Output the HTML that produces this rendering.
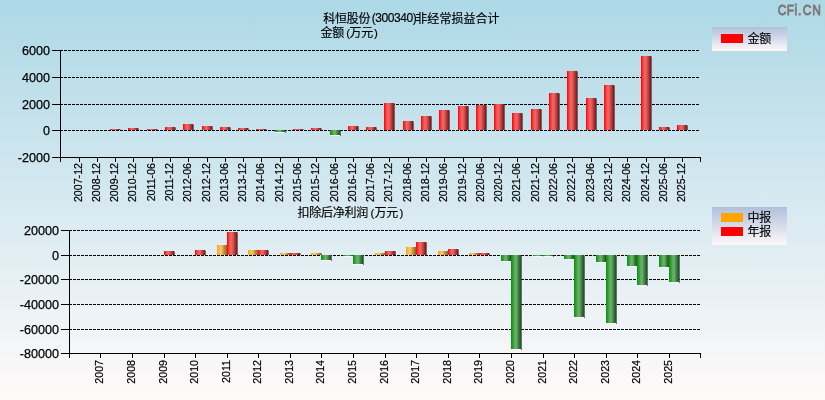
<!DOCTYPE html><html><head><meta charset="utf-8"><style>
html,body{margin:0;padding:0;width:825px;height:400px;overflow:hidden}
body{background:linear-gradient(#add8e6,#fffafa)}
svg{display:block}
text{font-family:"Liberation Sans","WenQuanYi Zen Hei","Noto Sans CJK SC",sans-serif;fill:#000}
.cj{stroke:#000;stroke-width:0.15px;font-family:"Noto Sans CJK SC","WenQuanYi Zen Hei",sans-serif;font-size:12px}
.yl{font-size:12.6px;stroke:#000;stroke-width:0.25px}
.xl{font-size:10.67px;stroke:#000;stroke-width:0.2px}
</style></head><body>
<svg width="825" height="400" viewBox="0 0 825 400" shape-rendering="crispEdges">
<defs>
<linearGradient id="gr" x1="0" x2="1" y1="0" y2="0"><stop offset="0" stop-color="#ff0000"/><stop offset="0.12" stop-color="#ff2222"/><stop offset="0.3" stop-color="#fd5454"/><stop offset="0.42" stop-color="#f06666"/><stop offset="0.55" stop-color="#dc5c5c"/><stop offset="0.75" stop-color="#b83c3c"/><stop offset="0.92" stop-color="#961c1c"/><stop offset="1" stop-color="#8c1414"/></linearGradient>
<linearGradient id="gg" x1="0" x2="1" y1="0" y2="0"><stop offset="0" stop-color="#0c8c0c"/><stop offset="0.2" stop-color="#30a030"/><stop offset="0.4" stop-color="#66b266"/><stop offset="0.55" stop-color="#6aa86a"/><stop offset="0.75" stop-color="#3f7f3f"/><stop offset="1" stop-color="#1a551a"/></linearGradient>
<linearGradient id="go" x1="0" x2="1" y1="0" y2="0"><stop offset="0" stop-color="#ffa500"/><stop offset="0.2" stop-color="#ffb63a"/><stop offset="0.35" stop-color="#fcc666"/><stop offset="0.5" stop-color="#e6bb66"/><stop offset="0.7" stop-color="#c09040"/><stop offset="1" stop-color="#85651a"/></linearGradient>
<linearGradient id="lg" x1="0" x2="0" y1="0" y2="1"><stop offset="0" stop-color="#b0c0dc"/><stop offset="1" stop-color="#fdf8f9"/></linearGradient>
</defs>
<line x1="60" y1="50.5" x2="700" y2="50.5" stroke="#000" stroke-width="1" stroke-dasharray="3 1"/>
<line x1="60" y1="77.5" x2="700" y2="77.5" stroke="#000" stroke-width="1" stroke-dasharray="3 1"/>
<line x1="60" y1="104.5" x2="700" y2="104.5" stroke="#000" stroke-width="1" stroke-dasharray="3 1"/>
<line x1="60" y1="130.5" x2="700" y2="130.5" stroke="#000" stroke-width="1" stroke-dasharray="3 1"/>
<rect x="110" y="129" width="10" height="1" fill="url(#gr)"/>
<rect x="120" y="129" width="1" height="1" fill="#3c4650" fill-opacity="0.45"/>
<rect x="128" y="128" width="10" height="2" fill="url(#gr)"/>
<rect x="138" y="128" width="1" height="1" fill="#3c4650" fill-opacity="0.45"/>
<rect x="138" y="129" width="1" height="1" fill="#3c4650" fill-opacity="0.75"/>
<rect x="147" y="129" width="10" height="1" fill="url(#gr)"/>
<rect x="157" y="129" width="1" height="1" fill="#3c4650" fill-opacity="0.45"/>
<rect x="165" y="127" width="10" height="3" fill="url(#gr)"/>
<rect x="175" y="127" width="1" height="1" fill="#3c4650" fill-opacity="0.45"/>
<rect x="175" y="128" width="1" height="2" fill="#3c4650" fill-opacity="0.75"/>
<rect x="183" y="124" width="10" height="6" fill="url(#gr)"/>
<rect x="193" y="124" width="1" height="1" fill="#3c4650" fill-opacity="0.45"/>
<rect x="193" y="125" width="1" height="5" fill="#3c4650" fill-opacity="0.75"/>
<rect x="202" y="126" width="10" height="4" fill="url(#gr)"/>
<rect x="212" y="126" width="1" height="1" fill="#3c4650" fill-opacity="0.45"/>
<rect x="212" y="127" width="1" height="3" fill="#3c4650" fill-opacity="0.75"/>
<rect x="220" y="127" width="10" height="3" fill="url(#gr)"/>
<rect x="230" y="127" width="1" height="1" fill="#3c4650" fill-opacity="0.45"/>
<rect x="230" y="128" width="1" height="2" fill="#3c4650" fill-opacity="0.75"/>
<rect x="238" y="128" width="10" height="2" fill="url(#gr)"/>
<rect x="248" y="128" width="1" height="1" fill="#3c4650" fill-opacity="0.45"/>
<rect x="248" y="129" width="1" height="1" fill="#3c4650" fill-opacity="0.75"/>
<rect x="256" y="129" width="10" height="1" fill="url(#gr)"/>
<rect x="266" y="129" width="1" height="1" fill="#3c4650" fill-opacity="0.45"/>
<rect x="275" y="130" width="10" height="2" fill="url(#gg)"/>
<rect x="285" y="130" width="1" height="1" fill="#3c4650" fill-opacity="0.45"/>
<rect x="285" y="131" width="1" height="2" fill="#3c4650" fill-opacity="0.75"/>
<rect x="275" y="132" width="10" height="1" fill="#ffffff" fill-opacity="0.6"/>
<rect x="293" y="129" width="10" height="1" fill="url(#gr)"/>
<rect x="303" y="129" width="1" height="1" fill="#3c4650" fill-opacity="0.45"/>
<rect x="311" y="128" width="10" height="2" fill="url(#gr)"/>
<rect x="321" y="128" width="1" height="1" fill="#3c4650" fill-opacity="0.45"/>
<rect x="321" y="129" width="1" height="1" fill="#3c4650" fill-opacity="0.75"/>
<rect x="330" y="130" width="10" height="5" fill="url(#gg)"/>
<rect x="340" y="130" width="1" height="1" fill="#3c4650" fill-opacity="0.45"/>
<rect x="340" y="131" width="1" height="5" fill="#3c4650" fill-opacity="0.75"/>
<rect x="330" y="135" width="10" height="1" fill="#ffffff" fill-opacity="0.6"/>
<rect x="348" y="126" width="10" height="4" fill="url(#gr)"/>
<rect x="358" y="126" width="1" height="1" fill="#3c4650" fill-opacity="0.45"/>
<rect x="358" y="127" width="1" height="3" fill="#3c4650" fill-opacity="0.75"/>
<rect x="366" y="127" width="10" height="3" fill="url(#gr)"/>
<rect x="376" y="127" width="1" height="1" fill="#3c4650" fill-opacity="0.45"/>
<rect x="376" y="128" width="1" height="2" fill="#3c4650" fill-opacity="0.75"/>
<rect x="384" y="103" width="10" height="27" fill="url(#gr)"/>
<rect x="394" y="103" width="1" height="1" fill="#3c4650" fill-opacity="0.45"/>
<rect x="394" y="104" width="1" height="26" fill="#3c4650" fill-opacity="0.75"/>
<rect x="403" y="121" width="10" height="9" fill="url(#gr)"/>
<rect x="413" y="121" width="1" height="1" fill="#3c4650" fill-opacity="0.45"/>
<rect x="413" y="122" width="1" height="8" fill="#3c4650" fill-opacity="0.75"/>
<rect x="421" y="116" width="10" height="14" fill="url(#gr)"/>
<rect x="431" y="116" width="1" height="1" fill="#3c4650" fill-opacity="0.45"/>
<rect x="431" y="117" width="1" height="13" fill="#3c4650" fill-opacity="0.75"/>
<rect x="439" y="110" width="10" height="20" fill="url(#gr)"/>
<rect x="449" y="110" width="1" height="1" fill="#3c4650" fill-opacity="0.45"/>
<rect x="449" y="111" width="1" height="19" fill="#3c4650" fill-opacity="0.75"/>
<rect x="458" y="106" width="10" height="24" fill="url(#gr)"/>
<rect x="468" y="106" width="1" height="1" fill="#3c4650" fill-opacity="0.45"/>
<rect x="468" y="107" width="1" height="23" fill="#3c4650" fill-opacity="0.75"/>
<rect x="476" y="105" width="10" height="25" fill="url(#gr)"/>
<rect x="486" y="105" width="1" height="1" fill="#3c4650" fill-opacity="0.45"/>
<rect x="486" y="106" width="1" height="24" fill="#3c4650" fill-opacity="0.75"/>
<rect x="494" y="104" width="10" height="26" fill="url(#gr)"/>
<rect x="504" y="104" width="1" height="1" fill="#3c4650" fill-opacity="0.45"/>
<rect x="504" y="105" width="1" height="25" fill="#3c4650" fill-opacity="0.75"/>
<rect x="512" y="113" width="10" height="17" fill="url(#gr)"/>
<rect x="522" y="113" width="1" height="1" fill="#3c4650" fill-opacity="0.45"/>
<rect x="522" y="114" width="1" height="16" fill="#3c4650" fill-opacity="0.75"/>
<rect x="531" y="109" width="10" height="21" fill="url(#gr)"/>
<rect x="541" y="109" width="1" height="1" fill="#3c4650" fill-opacity="0.45"/>
<rect x="541" y="110" width="1" height="20" fill="#3c4650" fill-opacity="0.75"/>
<rect x="549" y="93" width="10" height="37" fill="url(#gr)"/>
<rect x="559" y="93" width="1" height="1" fill="#3c4650" fill-opacity="0.45"/>
<rect x="559" y="94" width="1" height="36" fill="#3c4650" fill-opacity="0.75"/>
<rect x="567" y="71" width="10" height="59" fill="url(#gr)"/>
<rect x="577" y="71" width="1" height="1" fill="#3c4650" fill-opacity="0.45"/>
<rect x="577" y="72" width="1" height="58" fill="#3c4650" fill-opacity="0.75"/>
<rect x="586" y="98" width="10" height="32" fill="url(#gr)"/>
<rect x="596" y="98" width="1" height="1" fill="#3c4650" fill-opacity="0.45"/>
<rect x="596" y="99" width="1" height="31" fill="#3c4650" fill-opacity="0.75"/>
<rect x="604" y="85" width="10" height="45" fill="url(#gr)"/>
<rect x="614" y="85" width="1" height="1" fill="#3c4650" fill-opacity="0.45"/>
<rect x="614" y="86" width="1" height="44" fill="#3c4650" fill-opacity="0.75"/>
<rect x="641" y="56" width="10" height="74" fill="url(#gr)"/>
<rect x="651" y="56" width="1" height="1" fill="#3c4650" fill-opacity="0.45"/>
<rect x="651" y="57" width="1" height="73" fill="#3c4650" fill-opacity="0.75"/>
<rect x="659" y="127" width="10" height="3" fill="url(#gr)"/>
<rect x="669" y="127" width="1" height="1" fill="#3c4650" fill-opacity="0.45"/>
<rect x="669" y="128" width="1" height="2" fill="#3c4650" fill-opacity="0.75"/>
<rect x="677" y="125" width="10" height="5" fill="url(#gr)"/>
<rect x="687" y="125" width="1" height="1" fill="#3c4650" fill-opacity="0.45"/>
<rect x="687" y="126" width="1" height="4" fill="#3c4650" fill-opacity="0.75"/>
<rect x="60" y="50" width="1" height="112" fill="#000"/>
<rect x="60" y="157" width="641" height="1" fill="#000"/>
<rect x="52" y="50" width="8" height="1" fill="#000"/>
<rect x="52" y="77" width="8" height="1" fill="#000"/>
<rect x="52" y="104" width="8" height="1" fill="#000"/>
<rect x="52" y="130" width="8" height="1" fill="#000"/>
<rect x="52" y="157" width="8" height="1" fill="#000"/>
<rect x="79" y="158" width="1" height="4" fill="#000"/>
<rect x="97" y="158" width="1" height="4" fill="#000"/>
<rect x="115" y="158" width="1" height="4" fill="#000"/>
<rect x="133" y="158" width="1" height="4" fill="#000"/>
<rect x="152" y="158" width="1" height="4" fill="#000"/>
<rect x="170" y="158" width="1" height="4" fill="#000"/>
<rect x="188" y="158" width="1" height="4" fill="#000"/>
<rect x="207" y="158" width="1" height="4" fill="#000"/>
<rect x="225" y="158" width="1" height="4" fill="#000"/>
<rect x="243" y="158" width="1" height="4" fill="#000"/>
<rect x="261" y="158" width="1" height="4" fill="#000"/>
<rect x="280" y="158" width="1" height="4" fill="#000"/>
<rect x="298" y="158" width="1" height="4" fill="#000"/>
<rect x="316" y="158" width="1" height="4" fill="#000"/>
<rect x="335" y="158" width="1" height="4" fill="#000"/>
<rect x="353" y="158" width="1" height="4" fill="#000"/>
<rect x="371" y="158" width="1" height="4" fill="#000"/>
<rect x="389" y="158" width="1" height="4" fill="#000"/>
<rect x="408" y="158" width="1" height="4" fill="#000"/>
<rect x="426" y="158" width="1" height="4" fill="#000"/>
<rect x="444" y="158" width="1" height="4" fill="#000"/>
<rect x="463" y="158" width="1" height="4" fill="#000"/>
<rect x="481" y="158" width="1" height="4" fill="#000"/>
<rect x="499" y="158" width="1" height="4" fill="#000"/>
<rect x="517" y="158" width="1" height="4" fill="#000"/>
<rect x="536" y="158" width="1" height="4" fill="#000"/>
<rect x="554" y="158" width="1" height="4" fill="#000"/>
<rect x="572" y="158" width="1" height="4" fill="#000"/>
<rect x="591" y="158" width="1" height="4" fill="#000"/>
<rect x="609" y="158" width="1" height="4" fill="#000"/>
<rect x="627" y="158" width="1" height="4" fill="#000"/>
<rect x="646" y="158" width="1" height="4" fill="#000"/>
<rect x="664" y="158" width="1" height="4" fill="#000"/>
<rect x="682" y="158" width="1" height="4" fill="#000"/>
<rect x="700" y="158" width="1" height="4" fill="#000"/>
<text class="yl" x="50" y="54.5" text-anchor="end">6000</text>
<text class="yl" x="50" y="81.5" text-anchor="end">4000</text>
<text class="yl" x="50" y="108.5" text-anchor="end">2000</text>
<text class="yl" x="50" y="134.5" text-anchor="end">0</text>
<text class="yl" x="50" y="161.5" text-anchor="end">-2000</text>
<text class="xl" transform="translate(82,163) rotate(-90)" text-anchor="end">2007-12</text>
<text class="xl" transform="translate(100,163) rotate(-90)" text-anchor="end">2008-12</text>
<text class="xl" transform="translate(118,163) rotate(-90)" text-anchor="end">2009-12</text>
<text class="xl" transform="translate(136,163) rotate(-90)" text-anchor="end">2010-12</text>
<text class="xl" transform="translate(155,163) rotate(-90)" text-anchor="end">2011-06</text>
<text class="xl" transform="translate(173,163) rotate(-90)" text-anchor="end">2011-12</text>
<text class="xl" transform="translate(191,163) rotate(-90)" text-anchor="end">2012-06</text>
<text class="xl" transform="translate(210,163) rotate(-90)" text-anchor="end">2012-12</text>
<text class="xl" transform="translate(228,163) rotate(-90)" text-anchor="end">2013-06</text>
<text class="xl" transform="translate(246,163) rotate(-90)" text-anchor="end">2013-12</text>
<text class="xl" transform="translate(264,163) rotate(-90)" text-anchor="end">2014-06</text>
<text class="xl" transform="translate(283,163) rotate(-90)" text-anchor="end">2014-12</text>
<text class="xl" transform="translate(301,163) rotate(-90)" text-anchor="end">2015-06</text>
<text class="xl" transform="translate(319,163) rotate(-90)" text-anchor="end">2015-12</text>
<text class="xl" transform="translate(338,163) rotate(-90)" text-anchor="end">2016-06</text>
<text class="xl" transform="translate(356,163) rotate(-90)" text-anchor="end">2016-12</text>
<text class="xl" transform="translate(374,163) rotate(-90)" text-anchor="end">2017-06</text>
<text class="xl" transform="translate(392,163) rotate(-90)" text-anchor="end">2017-12</text>
<text class="xl" transform="translate(411,163) rotate(-90)" text-anchor="end">2018-06</text>
<text class="xl" transform="translate(429,163) rotate(-90)" text-anchor="end">2018-12</text>
<text class="xl" transform="translate(447,163) rotate(-90)" text-anchor="end">2019-06</text>
<text class="xl" transform="translate(466,163) rotate(-90)" text-anchor="end">2019-12</text>
<text class="xl" transform="translate(484,163) rotate(-90)" text-anchor="end">2020-06</text>
<text class="xl" transform="translate(502,163) rotate(-90)" text-anchor="end">2020-12</text>
<text class="xl" transform="translate(520,163) rotate(-90)" text-anchor="end">2021-06</text>
<text class="xl" transform="translate(539,163) rotate(-90)" text-anchor="end">2021-12</text>
<text class="xl" transform="translate(557,163) rotate(-90)" text-anchor="end">2022-06</text>
<text class="xl" transform="translate(575,163) rotate(-90)" text-anchor="end">2022-12</text>
<text class="xl" transform="translate(594,163) rotate(-90)" text-anchor="end">2023-06</text>
<text class="xl" transform="translate(612,163) rotate(-90)" text-anchor="end">2023-12</text>
<text class="xl" transform="translate(630,163) rotate(-90)" text-anchor="end">2024-06</text>
<text class="xl" transform="translate(649,163) rotate(-90)" text-anchor="end">2024-12</text>
<text class="xl" transform="translate(667,163) rotate(-90)" text-anchor="end">2025-06</text>
<text class="xl" transform="translate(685,163) rotate(-90)" text-anchor="end">2025-12</text>
<line x1="69" y1="230.5" x2="700" y2="230.5" stroke="#000" stroke-width="1" stroke-dasharray="3 1"/>
<line x1="69" y1="255.5" x2="700" y2="255.5" stroke="#000" stroke-width="1" stroke-dasharray="3 1"/>
<line x1="69" y1="279.5" x2="700" y2="279.5" stroke="#000" stroke-width="1" stroke-dasharray="3 1"/>
<line x1="69" y1="304.5" x2="700" y2="304.5" stroke="#000" stroke-width="1" stroke-dasharray="3 1"/>
<line x1="69" y1="329.5" x2="700" y2="329.5" stroke="#000" stroke-width="1" stroke-dasharray="3 1"/>
<rect x="164" y="251" width="10" height="4" fill="url(#gr)"/>
<rect x="174" y="251" width="1" height="1" fill="#3c4650" fill-opacity="0.45"/>
<rect x="174" y="252" width="1" height="3" fill="#3c4650" fill-opacity="0.75"/>
<rect x="195" y="250" width="10" height="5" fill="url(#gr)"/>
<rect x="205" y="250" width="1" height="1" fill="#3c4650" fill-opacity="0.45"/>
<rect x="205" y="251" width="1" height="4" fill="#3c4650" fill-opacity="0.75"/>
<rect x="217" y="245" width="10" height="10" fill="url(#go)"/>
<rect x="227" y="245" width="1" height="1" fill="#3c4650" fill-opacity="0.45"/>
<rect x="227" y="246" width="1" height="9" fill="#3c4650" fill-opacity="0.75"/>
<rect x="227" y="232" width="10" height="23" fill="url(#gr)"/>
<rect x="237" y="232" width="1" height="1" fill="#3c4650" fill-opacity="0.45"/>
<rect x="237" y="233" width="1" height="22" fill="#3c4650" fill-opacity="0.75"/>
<rect x="248" y="250" width="10" height="5" fill="url(#go)"/>
<rect x="258" y="250" width="1" height="1" fill="#3c4650" fill-opacity="0.45"/>
<rect x="258" y="251" width="1" height="4" fill="#3c4650" fill-opacity="0.75"/>
<rect x="258" y="250" width="10" height="5" fill="url(#gr)"/>
<rect x="268" y="250" width="1" height="1" fill="#3c4650" fill-opacity="0.45"/>
<rect x="268" y="251" width="1" height="4" fill="#3c4650" fill-opacity="0.75"/>
<rect x="280" y="253" width="10" height="2" fill="url(#go)"/>
<rect x="290" y="253" width="1" height="1" fill="#3c4650" fill-opacity="0.45"/>
<rect x="290" y="254" width="1" height="1" fill="#3c4650" fill-opacity="0.75"/>
<rect x="290" y="253" width="10" height="2" fill="url(#gr)"/>
<rect x="300" y="253" width="1" height="1" fill="#3c4650" fill-opacity="0.45"/>
<rect x="300" y="254" width="1" height="1" fill="#3c4650" fill-opacity="0.75"/>
<rect x="311" y="253" width="10" height="2" fill="url(#go)"/>
<rect x="321" y="253" width="1" height="1" fill="#3c4650" fill-opacity="0.45"/>
<rect x="321" y="254" width="1" height="1" fill="#3c4650" fill-opacity="0.75"/>
<rect x="321" y="255" width="10" height="5" fill="url(#gg)"/>
<rect x="331" y="255" width="1" height="1" fill="#3c4650" fill-opacity="0.45"/>
<rect x="331" y="256" width="1" height="5" fill="#3c4650" fill-opacity="0.75"/>
<rect x="321" y="260" width="10" height="1" fill="#ffffff" fill-opacity="0.6"/>
<rect x="343" y="255" width="10" height="1" fill="url(#gg)"/>
<rect x="353" y="255" width="1" height="1" fill="#3c4650" fill-opacity="0.45"/>
<rect x="353" y="256" width="1" height="1" fill="#3c4650" fill-opacity="0.75"/>
<rect x="343" y="256" width="10" height="1" fill="#ffffff" fill-opacity="0.6"/>
<rect x="353" y="255" width="10" height="9" fill="url(#gg)"/>
<rect x="363" y="255" width="1" height="1" fill="#3c4650" fill-opacity="0.45"/>
<rect x="363" y="256" width="1" height="9" fill="#3c4650" fill-opacity="0.75"/>
<rect x="353" y="264" width="10" height="1" fill="#ffffff" fill-opacity="0.6"/>
<rect x="375" y="253" width="10" height="2" fill="url(#go)"/>
<rect x="385" y="253" width="1" height="1" fill="#3c4650" fill-opacity="0.45"/>
<rect x="385" y="254" width="1" height="1" fill="#3c4650" fill-opacity="0.75"/>
<rect x="385" y="251" width="10" height="4" fill="url(#gr)"/>
<rect x="395" y="251" width="1" height="1" fill="#3c4650" fill-opacity="0.45"/>
<rect x="395" y="252" width="1" height="3" fill="#3c4650" fill-opacity="0.75"/>
<rect x="406" y="247" width="10" height="8" fill="url(#go)"/>
<rect x="416" y="247" width="1" height="1" fill="#3c4650" fill-opacity="0.45"/>
<rect x="416" y="248" width="1" height="7" fill="#3c4650" fill-opacity="0.75"/>
<rect x="416" y="242" width="10" height="13" fill="url(#gr)"/>
<rect x="426" y="242" width="1" height="1" fill="#3c4650" fill-opacity="0.45"/>
<rect x="426" y="243" width="1" height="12" fill="#3c4650" fill-opacity="0.75"/>
<rect x="438" y="251" width="10" height="4" fill="url(#go)"/>
<rect x="448" y="251" width="1" height="1" fill="#3c4650" fill-opacity="0.45"/>
<rect x="448" y="252" width="1" height="3" fill="#3c4650" fill-opacity="0.75"/>
<rect x="448" y="249" width="10" height="6" fill="url(#gr)"/>
<rect x="458" y="249" width="1" height="1" fill="#3c4650" fill-opacity="0.45"/>
<rect x="458" y="250" width="1" height="5" fill="#3c4650" fill-opacity="0.75"/>
<rect x="469" y="253" width="10" height="2" fill="url(#go)"/>
<rect x="479" y="253" width="1" height="1" fill="#3c4650" fill-opacity="0.45"/>
<rect x="479" y="254" width="1" height="1" fill="#3c4650" fill-opacity="0.75"/>
<rect x="479" y="253" width="10" height="2" fill="url(#gr)"/>
<rect x="489" y="253" width="1" height="1" fill="#3c4650" fill-opacity="0.45"/>
<rect x="489" y="254" width="1" height="1" fill="#3c4650" fill-opacity="0.75"/>
<rect x="501" y="255" width="10" height="6" fill="url(#gg)"/>
<rect x="511" y="255" width="1" height="1" fill="#3c4650" fill-opacity="0.45"/>
<rect x="511" y="256" width="1" height="6" fill="#3c4650" fill-opacity="0.75"/>
<rect x="501" y="261" width="10" height="1" fill="#ffffff" fill-opacity="0.6"/>
<rect x="511" y="255" width="10" height="94" fill="url(#gg)"/>
<rect x="521" y="255" width="1" height="1" fill="#3c4650" fill-opacity="0.45"/>
<rect x="521" y="256" width="1" height="94" fill="#3c4650" fill-opacity="0.75"/>
<rect x="511" y="349" width="10" height="1" fill="#ffffff" fill-opacity="0.6"/>
<rect x="533" y="255" width="10" height="1" fill="url(#gg)"/>
<rect x="543" y="255" width="1" height="1" fill="#3c4650" fill-opacity="0.45"/>
<rect x="543" y="256" width="1" height="1" fill="#3c4650" fill-opacity="0.75"/>
<rect x="533" y="256" width="10" height="1" fill="#ffffff" fill-opacity="0.6"/>
<rect x="543" y="255" width="10" height="1" fill="url(#gg)"/>
<rect x="553" y="255" width="1" height="1" fill="#3c4650" fill-opacity="0.45"/>
<rect x="553" y="256" width="1" height="1" fill="#3c4650" fill-opacity="0.75"/>
<rect x="543" y="256" width="10" height="1" fill="#ffffff" fill-opacity="0.6"/>
<rect x="564" y="255" width="10" height="4" fill="url(#gg)"/>
<rect x="574" y="255" width="1" height="1" fill="#3c4650" fill-opacity="0.45"/>
<rect x="574" y="256" width="1" height="4" fill="#3c4650" fill-opacity="0.75"/>
<rect x="564" y="259" width="10" height="1" fill="#ffffff" fill-opacity="0.6"/>
<rect x="574" y="255" width="10" height="62" fill="url(#gg)"/>
<rect x="584" y="255" width="1" height="1" fill="#3c4650" fill-opacity="0.45"/>
<rect x="584" y="256" width="1" height="62" fill="#3c4650" fill-opacity="0.75"/>
<rect x="574" y="317" width="10" height="1" fill="#ffffff" fill-opacity="0.6"/>
<rect x="596" y="255" width="10" height="7" fill="url(#gg)"/>
<rect x="606" y="255" width="1" height="1" fill="#3c4650" fill-opacity="0.45"/>
<rect x="606" y="256" width="1" height="7" fill="#3c4650" fill-opacity="0.75"/>
<rect x="596" y="262" width="10" height="1" fill="#ffffff" fill-opacity="0.6"/>
<rect x="606" y="255" width="10" height="68" fill="url(#gg)"/>
<rect x="616" y="255" width="1" height="1" fill="#3c4650" fill-opacity="0.45"/>
<rect x="616" y="256" width="1" height="68" fill="#3c4650" fill-opacity="0.75"/>
<rect x="606" y="323" width="10" height="1" fill="#ffffff" fill-opacity="0.6"/>
<rect x="627" y="255" width="10" height="11" fill="url(#gg)"/>
<rect x="637" y="255" width="1" height="1" fill="#3c4650" fill-opacity="0.45"/>
<rect x="637" y="256" width="1" height="11" fill="#3c4650" fill-opacity="0.75"/>
<rect x="627" y="266" width="10" height="1" fill="#ffffff" fill-opacity="0.6"/>
<rect x="637" y="255" width="10" height="30" fill="url(#gg)"/>
<rect x="647" y="255" width="1" height="1" fill="#3c4650" fill-opacity="0.45"/>
<rect x="647" y="256" width="1" height="30" fill="#3c4650" fill-opacity="0.75"/>
<rect x="637" y="285" width="10" height="1" fill="#ffffff" fill-opacity="0.6"/>
<rect x="659" y="255" width="10" height="12" fill="url(#gg)"/>
<rect x="669" y="255" width="1" height="1" fill="#3c4650" fill-opacity="0.45"/>
<rect x="669" y="256" width="1" height="12" fill="#3c4650" fill-opacity="0.75"/>
<rect x="659" y="267" width="10" height="1" fill="#ffffff" fill-opacity="0.6"/>
<rect x="669" y="255" width="10" height="27" fill="url(#gg)"/>
<rect x="679" y="255" width="1" height="1" fill="#3c4650" fill-opacity="0.45"/>
<rect x="679" y="256" width="1" height="27" fill="#3c4650" fill-opacity="0.75"/>
<rect x="669" y="282" width="10" height="1" fill="#ffffff" fill-opacity="0.6"/>
<rect x="69" y="230" width="1" height="128" fill="#000"/>
<rect x="69" y="353" width="632" height="1" fill="#000"/>
<rect x="61" y="230" width="8" height="1" fill="#000"/>
<rect x="61" y="255" width="8" height="1" fill="#000"/>
<rect x="61" y="279" width="8" height="1" fill="#000"/>
<rect x="61" y="304" width="8" height="1" fill="#000"/>
<rect x="61" y="329" width="8" height="1" fill="#000"/>
<rect x="61" y="353" width="8" height="1" fill="#000"/>
<rect x="100" y="354" width="1" height="4" fill="#000"/>
<rect x="132" y="354" width="1" height="4" fill="#000"/>
<rect x="164" y="354" width="1" height="4" fill="#000"/>
<rect x="195" y="354" width="1" height="4" fill="#000"/>
<rect x="227" y="354" width="1" height="4" fill="#000"/>
<rect x="258" y="354" width="1" height="4" fill="#000"/>
<rect x="290" y="354" width="1" height="4" fill="#000"/>
<rect x="321" y="354" width="1" height="4" fill="#000"/>
<rect x="353" y="354" width="1" height="4" fill="#000"/>
<rect x="385" y="354" width="1" height="4" fill="#000"/>
<rect x="416" y="354" width="1" height="4" fill="#000"/>
<rect x="448" y="354" width="1" height="4" fill="#000"/>
<rect x="479" y="354" width="1" height="4" fill="#000"/>
<rect x="511" y="354" width="1" height="4" fill="#000"/>
<rect x="543" y="354" width="1" height="4" fill="#000"/>
<rect x="574" y="354" width="1" height="4" fill="#000"/>
<rect x="606" y="354" width="1" height="4" fill="#000"/>
<rect x="637" y="354" width="1" height="4" fill="#000"/>
<rect x="669" y="354" width="1" height="4" fill="#000"/>
<rect x="700" y="354" width="1" height="4" fill="#000"/>
<text class="yl" x="59" y="234.5" text-anchor="end">20000</text>
<text class="yl" x="59" y="259.5" text-anchor="end">0</text>
<text class="yl" x="59" y="283.5" text-anchor="end">-20000</text>
<text class="yl" x="59" y="308.5" text-anchor="end">-40000</text>
<text class="yl" x="59" y="333.5" text-anchor="end">-60000</text>
<text class="yl" x="59" y="357.5" text-anchor="end">-80000</text>
<text class="xl" transform="translate(103,360) rotate(-90)" text-anchor="end">2007</text>
<text class="xl" transform="translate(135,360) rotate(-90)" text-anchor="end">2008</text>
<text class="xl" transform="translate(167,360) rotate(-90)" text-anchor="end">2009</text>
<text class="xl" transform="translate(198,360) rotate(-90)" text-anchor="end">2010</text>
<text class="xl" transform="translate(230,360) rotate(-90)" text-anchor="end">2011</text>
<text class="xl" transform="translate(261,360) rotate(-90)" text-anchor="end">2012</text>
<text class="xl" transform="translate(293,360) rotate(-90)" text-anchor="end">2013</text>
<text class="xl" transform="translate(324,360) rotate(-90)" text-anchor="end">2014</text>
<text class="xl" transform="translate(356,360) rotate(-90)" text-anchor="end">2015</text>
<text class="xl" transform="translate(388,360) rotate(-90)" text-anchor="end">2016</text>
<text class="xl" transform="translate(419,360) rotate(-90)" text-anchor="end">2017</text>
<text class="xl" transform="translate(451,360) rotate(-90)" text-anchor="end">2018</text>
<text class="xl" transform="translate(482,360) rotate(-90)" text-anchor="end">2019</text>
<text class="xl" transform="translate(514,360) rotate(-90)" text-anchor="end">2020</text>
<text class="xl" transform="translate(546,360) rotate(-90)" text-anchor="end">2021</text>
<text class="xl" transform="translate(577,360) rotate(-90)" text-anchor="end">2022</text>
<text class="xl" transform="translate(609,360) rotate(-90)" text-anchor="end">2023</text>
<text class="xl" transform="translate(640,360) rotate(-90)" text-anchor="end">2024</text>
<text class="xl" transform="translate(672,360) rotate(-90)" text-anchor="end">2025</text>
<text class="cj" y="22.5"><tspan x="323.3" letter-spacing="-0.25">科恒股份</tspan><tspan x="371.8" y="21.6" style="font-family:'Liberation Sans',sans-serif;font-size:12px" letter-spacing="-0.44">(300340)</tspan><tspan x="415.3" y="22.5" letter-spacing="0.05">非经常损益合计</tspan></text>
<text class="cj" y="37"><tspan x="320.6" letter-spacing="-0.25">金额</tspan><tspan x="346.3" style="font-family:'Liberation Sans',sans-serif;font-size:11.5px" letter-spacing="-0.3">(</tspan><tspan x="349.4" letter-spacing="-0.25">万元</tspan><tspan x="374.1" style="font-family:'Liberation Sans',sans-serif;font-size:11.5px" letter-spacing="-0.3">)</tspan></text>
<text class="cj" y="217"><tspan x="297.4" letter-spacing="-0.25">扣除后净利润</tspan><tspan x="370.5" style="font-family:'Liberation Sans',sans-serif;font-size:11.5px" letter-spacing="-0.3">(</tspan><tspan x="374.4" letter-spacing="-0.25">万元</tspan><tspan x="399.4" style="font-family:'Liberation Sans',sans-serif;font-size:11.5px" letter-spacing="-0.3">)</tspan></text>
<text transform="translate(778,14.9) scale(0.8,1)" style="font-size:15px;stroke:#7d7575;stroke-width:0.8px;fill:#7d7575;font-family:'Liberation Sans',sans-serif"><tspan x="-0.30">C</tspan><tspan x="10.80">F</tspan><tspan x="20.50">i</tspan><tspan x="24.95">.</tspan><tspan x="30.82">C</tspan><tspan x="42.80">N</tspan></text>
<rect x="712" y="27" width="75" height="24" fill="url(#lg)"/>
<rect x="721" y="34" width="22" height="9" fill="#ff0000"/>
<text class="cj" y="43"><tspan x="747.6" letter-spacing="-0.25">金额</tspan></text>
<rect x="712" y="207" width="75" height="38" fill="url(#lg)"/>
<rect x="721" y="213" width="22" height="9" fill="#ffa500"/>
<rect x="721" y="227" width="22" height="9" fill="#ff0000"/>
<text class="cj" y="221.5"><tspan x="747.6" letter-spacing="-0.25">中报</tspan></text>
<text class="cj" y="236"><tspan x="747.6" letter-spacing="-0.25">年报</tspan></text>
</svg></body></html>
